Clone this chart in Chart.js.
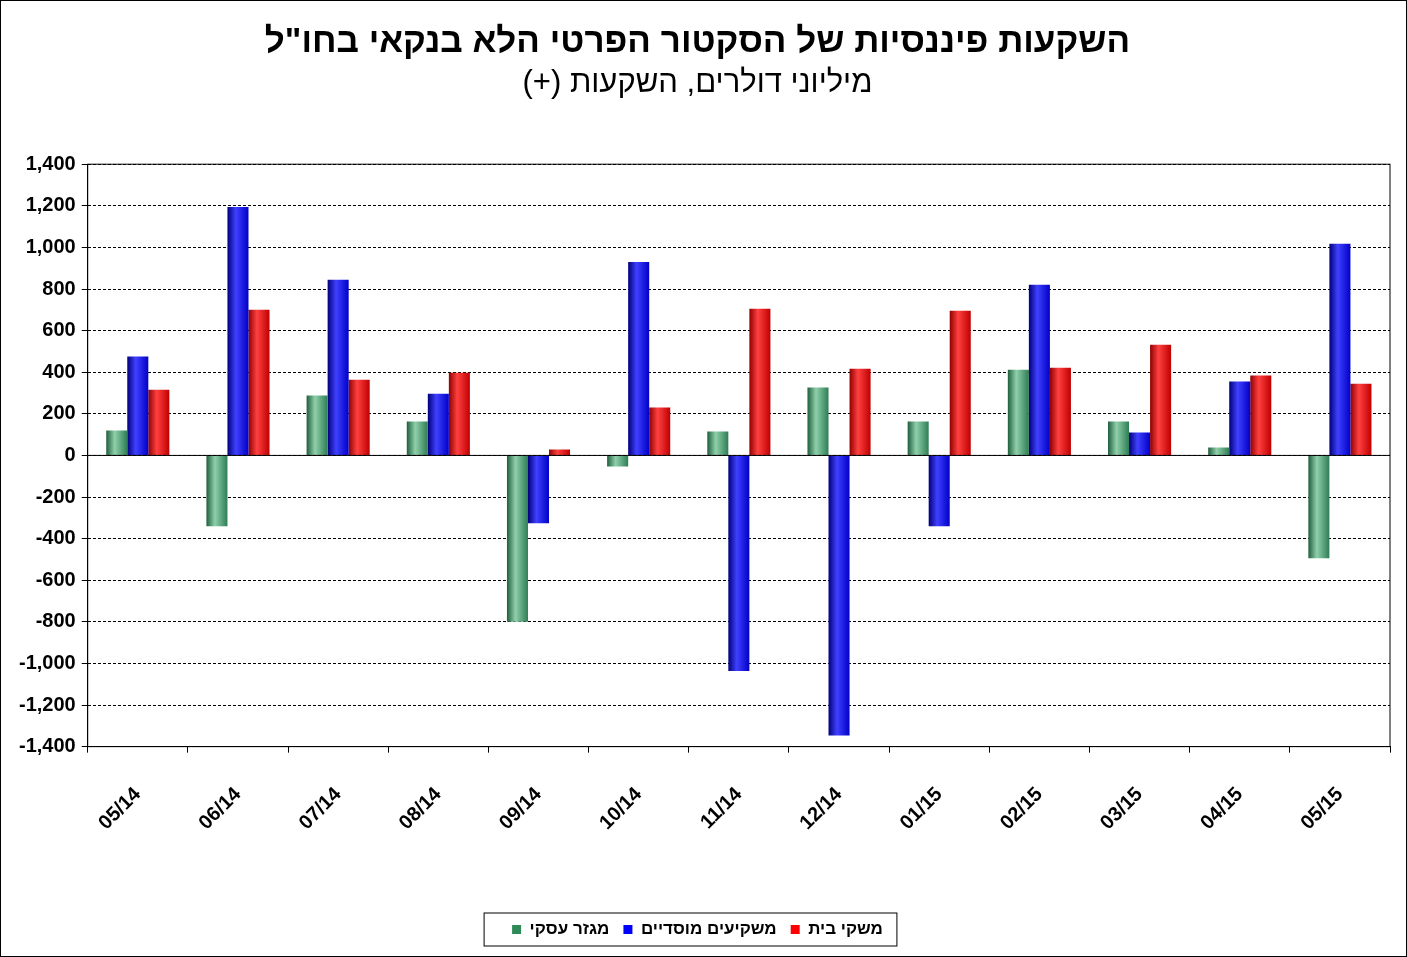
<!DOCTYPE html>
<html><head><meta charset="utf-8">
<script src="https://cdn.jsdelivr.net/npm/chart.js@4/dist/chart.umd.min.js"></script>
<style>html,body{margin:0;padding:0;background:#fff}#w{width:1405px;height:955px;border:1px solid #000}</style>
</head><body><div id="w"><canvas id="c"></canvas></div>
<script>
const categories=['05/14','06/14','07/14','08/14','09/14','10/14','11/14','12/14','01/15','02/15','03/15','04/15','05/15'];
const business=[120,-340,288,163,-800,-53,115,326,163,412,163,38,-494];
const institutional=[475,1194,844,297,-326,930,-1036,-1347,-340,820,110,355,1017];
const households=[316,700,364,398,29,230,705,417,695,422,532,384,345];
const yTicks=[-1400,-1200,-1000,-800,-600,-400,-200,0,200,400,600,800,1000,1200,1400];
const CP=0.63;
const cols=[['#1f5e3c','#8fd0aa','#2e7d55'],['#00007a','#4040ff','#0000c8'],['#900000','#ff4040','#c00000']];
function bg(ctx){
  const chart=ctx.chart,xs=chart.scales.x;
  if(!xs||!xs.width)return cols[ctx.datasetIndex][2];
  const cw=xs.width/categories.length,bw=cw*CP/3;
  const cx=xs.getPixelForValue(ctx.dataIndex)+(ctx.datasetIndex-1)*bw;
  const g=chart.ctx.createLinearGradient(cx-bw/2,0,cx+bw/2,0);
  const c=cols[ctx.datasetIndex];
  g.addColorStop(0,c[0]);g.addColorStop(0.4,c[1]);g.addColorStop(1,c[2]);
  return g;
}
const legBox={id:'legBox',afterDraw(chart){
  const l=chart.legend;if(!l||!l.legendHitBoxes.length)return;
  const hb=l.legendHitBoxes;
  const x0=Math.min(...hb.map(h=>h.left))-28,x1=Math.max(...hb.map(h=>h.left+h.width))+14;
  const y0=hb[0].top-8,y1=hb[0].top+hb[0].height+8;
  const c=chart.ctx;c.save();c.strokeStyle='#000';c.lineWidth=1;c.strokeRect(x0,y0,x1-x0,y1-y0);c.restore();
}};
new Chart(document.getElementById('c'),{
  type:'bar',
  data:{labels:categories,datasets:[
    {label:'מגזר עסקי',data:business,backgroundColor:bg,borderWidth:0},
    {label:'משקיעים מוסדיים',data:institutional,backgroundColor:bg,borderWidth:0},
    {label:'משקי בית',data:households,backgroundColor:bg,borderWidth:0}
  ]},
  options:{
    responsive:true,maintainAspectRatio:false,animation:false,locale:'en-US',
    layout:{padding:{left:4,right:16,top:14,bottom:8}},
    datasets:{bar:{categoryPercentage:CP,barPercentage:1}},
    plugins:{
      title:{display:true,text:'השקעות פיננסיות של הסקטור הפרטי הלא בנקאי בחו"ל',font:{family:'Arial',size:35,weight:'bold'},color:'#000',padding:{top:6,bottom:2}},
      subtitle:{display:true,text:'מיליוני דולרים, השקעות (+)\u200F',font:{family:'Arial',size:31},color:'#000',padding:{top:0,bottom:62}},
      legend:{position:'bottom',labels:{generateLabels:ch=>ch.data.datasets.map((d,i)=>({text:d.label,fillStyle:['#2e8b57','#0000ff','#ff0000'][i],strokeStyle:'transparent',lineWidth:0,datasetIndex:i,fontColor:'#000'})),boxWidth:9,boxHeight:9,color:'#000',font:{family:'Arial',size:17,weight:'bold'},padding:14}},
      tooltip:{enabled:false}
    },
    scales:{
      x:{grid:{display:true,drawOnChartArea:false,offset:true,color:'#000',tickLength:6},border:{color:'#000'},
        afterFit:s=>{s.height+=42;},
        ticks:{color:'#000',font:{family:'Arial',size:20,weight:'bold'},maxRotation:45,minRotation:45,padding:30}},
      y:{min:-1400,max:1400,afterBuildTicks:a=>{a.ticks=yTicks.map(v=>({value:v}));},
        afterFit:s=>{s.width+=8;},
        grid:{color:'#000',lineWidth:1,tickLength:6},
        border:{color:'#000',dash:[3,2]},
        ticks:{color:'#000',font:{family:'Arial',size:20,weight:'bold'},padding:6}}
    }
  },
  plugins:[legBox,{id:'frame',afterDatasetsDraw(chart){
    const a=chart.chartArea,c=chart.ctx,y0=chart.scales.y.getPixelForValue(0);
    c.save();c.strokeStyle='#000';c.lineWidth=1;c.strokeRect(a.left,a.top,a.right-a.left,a.bottom-a.top);
    c.beginPath();c.moveTo(a.left,y0);c.lineTo(a.right,y0);c.stroke();c.restore();
  }}]
});
</script></body></html>
